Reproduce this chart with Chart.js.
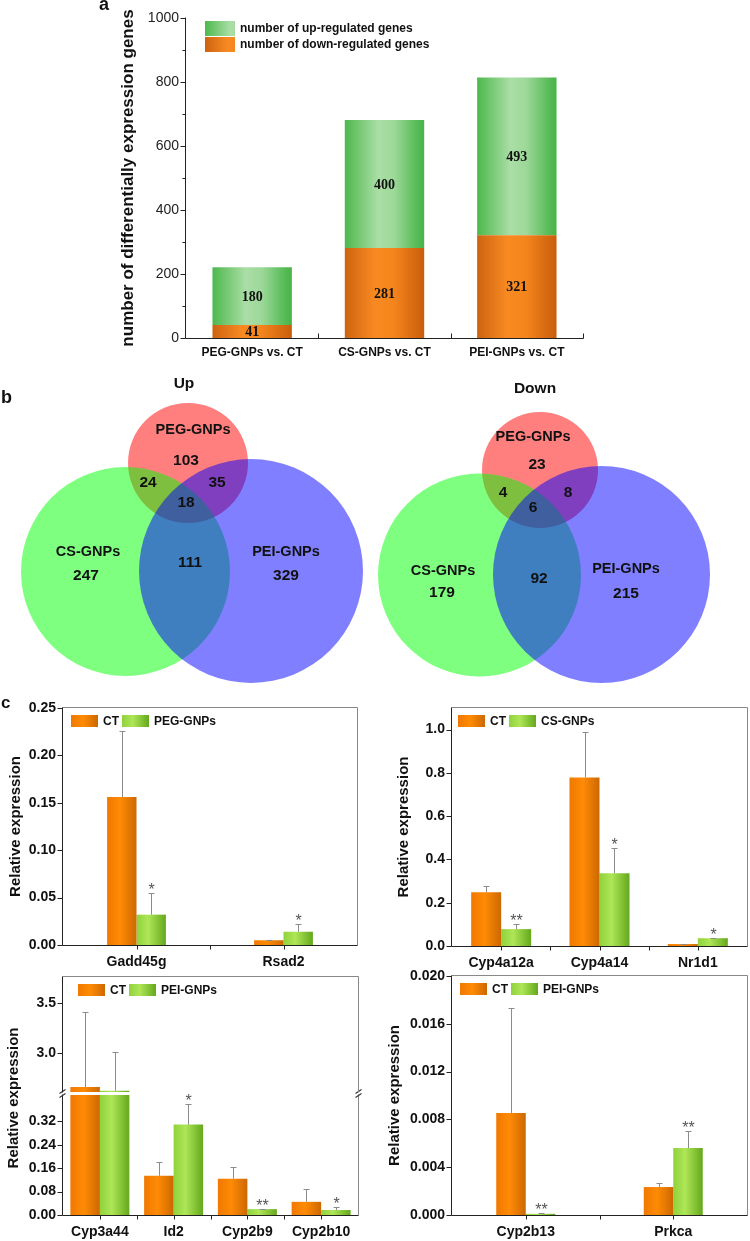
<!DOCTYPE html>
<html>
<head>
<meta charset="utf-8">
<title>Differentially expressed genes</title>
<script src="https://cdn.jsdelivr.net/npm/chart.js@4.4.1/dist/chart.umd.min.js"></script>
<style>
  body { margin: 0; background: #fff; }
  #page { position: relative; width: 750px; height: 1241px; overflow: hidden; font-family: 'Liberation Sans', Arial, sans-serif; }
  #page canvas { position: absolute; }
  .tag { position: absolute; font-weight: bold; color: #111; line-height: 18px; }
</style>
</head>
<body>
<div id="page">
  <canvas id="chartA" width="600" height="370" style="left:0;top:0"></canvas>
  <canvas id="vennUp" width="375" height="320" style="left:0;top:370px"></canvas>
  <canvas id="vennDown" width="375" height="320" style="left:375px;top:370px"></canvas>
  <canvas id="chartC1" width="375" height="285" style="left:0;top:690px"></canvas>
  <canvas id="chartC2" width="375" height="285" style="left:375px;top:690px"></canvas>
  <canvas id="chartC3" width="375" height="281" style="left:0;top:960px"></canvas>
  <canvas id="chartC3top" width="375" height="134" style="left:0;top:960px"></canvas>
  <canvas id="chartC4" width="375" height="281" style="left:375px;top:960px"></canvas>
  <div class="tag" style="left:99px;top:-5px;font-size:18px">a</div>
  <div class="tag" style="left:1px;top:388px;font-size:18px">b</div>
  <div class="tag" style="left:1px;top:694px;font-size:17px">c</div>
</div>
<script>
// panel a - number of differentially expressed genes
const groupsA = ['PEG-GNPs vs. CT', 'CS-GNPs vs. CT', 'PEI-GNPs vs. CT'];
const downA = [41, 281, 321];
const upA = [180, 400, 493];
const ticksA = [0, 200, 400, 600, 800, 1000];
const minorA = [100, 300, 500, 700, 900];

// panel b - venn region counts: PEG only, CS only, PEI only, PEG&CS, PEG&PEI, CS&PEI, all three
const vennSets = ['PEG-GNPs', 'CS-GNPs', 'PEI-GNPs'];
const vennUpCounts = [103, 247, 329, 24, 35, 111, 18];
const vennDownCounts = [23, 179, 215, 4, 8, 92, 6];

// panel c - relative expression (mean, sd, significance)
const genesC1 = ['Gadd45g', 'Rsad2'];
const ctC1 = [0.156, 0.005];
const ctC1Err = [0.070, 0.0006];
const pegC1 = [0.032, 0.014];
const pegC1Err = [0.023, 0.008];
const pegC1Sig = ['*', '*'];
const ticksC1 = [0, 0.05, 0.10, 0.15, 0.20, 0.25];

const genesC2 = ['Cyp4a12a', 'Cyp4a14', 'Nr1d1'];
const ctC2 = [0.249, 0.779, 0.009];
const ctC2Err = [0.027, 0.211, 0.002];
const csC2 = [0.078, 0.336, 0.036];
const csC2Err = [0.023, 0.116, 0.003];
const csC2Sig = ['**', '*', '*'];
const ticksC2 = [0, 0.2, 0.4, 0.6, 0.8, 1.0];

const genesC3 = ['Cyp3a44', 'Id2', 'Cyp2b9', 'Cyp2b10'];
const ctC3 = [2.66, 0.134, 0.124, 0.045];
const ctC3Err = [0.747, 0.048, 0.041, 0.044];
const peiC3 = [2.623, 0.309, 0.020, 0.017];
const peiC3Err = [0.384, 0.069, 0.002, 0.011];
const peiC3Sig = ['', '*', '**', '*'];
const ticksC3High = [3.0, 3.5];
const ticksC3Low = [0, 0.08, 0.16, 0.24, 0.32];

const genesC4 = ['Cyp2b13', 'Prkca'];
const ctC4 = [0.00854, 0.00234];
const ctC4Err = [0.0088, 0.00034];
const peiC4 = [0.0001, 0.0056];
const peiC4Err = [0.0001, 0.00143];
const peiC4Sig = ['**', '**'];
const ticksC4 = [0, 0.004, 0.008, 0.012, 0.016, 0.020];

// styles
const orangeA = [[0, '#cd6310'], [0.38, '#f98a22'], [0.62, '#f4841c'], [1, '#c85d0d']];
const greenA = [[0, '#4db84d'], [0.42, '#aadea6'], [0.62, '#9dd899'], [0.9, '#58bc58'], [1, '#49b349']];
const orangeC = [[0, '#f07800'], [0.45, '#ff8b05'], [1, '#cc6800']];
const greenC = [[0, '#8fd23c'], [0.4, '#aee657'], [1, '#64a81c']];
const vennColors = ['rgba(255,0,0,0.5)', 'rgba(0,255,0,0.5)', 'rgba(0,0,255,0.5)'];
const FONT = '"Liberation Sans", Arial, sans-serif';

// venn layout in canvas units: circles [cx, cy, r], text anchors
const vennUpLayout = {
  circles: [[188, 93, 60], [125.5, 201.5, 104.5], [251, 201, 112]],
  title: [184, 14],
  names: [[193, 60], [88, 182], [286, 182]],
  counts: [[186, 91], [86, 206], [286, 206], [148, 113], [217, 113], [190, 193], [186, 133]]
};
const vennDownLayout = {
  circles: [[165, 100, 58], [104.5, 205, 101.5], [226.5, 204.5, 108.5]],
  title: [160, 19],
  names: [[158, 67], [68, 201], [251, 199]],
  counts: [[162, 95], [67, 223], [251, 224], [128, 123], [193, 123], [164, 209], [158, 138]]
};

Chart.defaults.font.family = FONT;
Chart.defaults.color = '#111';

function makeGrad(ctx, x0, x1, stops) {
  const g = ctx.createLinearGradient(x0, 0, x1, 0);
  stops.forEach(s => g.addColorStop(s[0], s[1]));
  return g;
}

const gradPlugin = {
  id: 'gradfill',
  beforeDatasetsDraw(chart) {
    chart.data.datasets.forEach((ds, di) => {
      if (!ds.grad) return;
      chart.getDatasetMeta(di).data.forEach(bar => {
        bar.options.backgroundColor = makeGrad(chart.ctx, bar.x - bar.width / 2, bar.x + bar.width / 2, ds.grad);
      });
    });
  }
};

const valuePlugin = {
  id: 'vals',
  afterDatasetsDraw(chart) {
    const ctx = chart.ctx;
    ctx.save();
    ctx.font = 'bold 14px "Liberation Serif", "Times New Roman", serif';
    ctx.fillStyle = '#111';
    ctx.textAlign = 'center';
    ctx.textBaseline = 'middle';
    chart.data.datasets.forEach((ds, di) => {
      chart.getDatasetMeta(di).data.forEach((bar, i) => {
        ctx.fillText(ds.data[i], bar.x, (bar.y + bar.base) / 2 + 1);
      });
    });
    ctx.restore();
  }
};

const errPlugin = {
  id: 'errbars',
  afterDatasetsDraw(chart) {
    const {ctx, chartArea: a, scales: {y}} = chart;
    ctx.save();
    chart.data.datasets.forEach((ds, di) => {
      if (!ds.err) return;
      chart.getDatasetMeta(di).data.forEach((bar, i) => {
        const v = ds.data[i], top = v + ds.err[i];
        if (top > y.max || top < y.min) return;
        const yt = Math.round(y.getPixelForValue(top)) + 0.5;
        const yb = Math.min(Math.max(y.getPixelForValue(v), a.top), a.bottom);
        const xc = Math.round(bar.x) + 0.5;
        ctx.strokeStyle = '#8c8c8c';
        ctx.lineWidth = 1;
        ctx.beginPath();
        ctx.moveTo(xc, yb); ctx.lineTo(xc, yt);
        ctx.moveTo(xc - 3, yt); ctx.lineTo(xc + 3, yt);
        ctx.stroke();
        const s = ds.sig && ds.sig[i];
        if (s) {
          ctx.fillStyle = '#555';
          ctx.font = '16px ' + FONT;
          ctx.textAlign = 'center';
          ctx.textBaseline = 'alphabetic';
          ctx.fillText(s, xc, yt + 1);
        }
      });
    });
    ctx.restore();
  }
};

const framePlugin = {
  id: 'frame',
  afterDraw(chart, args, o) {
    const {ctx, chartArea: a, scales: {x, y}} = chart;
    const L = Math.round(a.left) - 0.5, R = Math.round(a.right) + 0.5;
    const T = Math.round(a.top) - 0.5, B = Math.round(a.bottom) + 0.5;
    const seg = (x1, y1, x2, y2, c) => { ctx.strokeStyle = c; ctx.beginPath(); ctx.moveTo(x1, y1); ctx.lineTo(x2, y2); ctx.stroke(); };
    const s = o.sides || {};
    const ink = s.left || '#222';
    ctx.save();
    ctx.lineWidth = 1;
    if (s.top) seg(L, T, R, T, s.top);
    if (s.right) seg(R, T, R, B, s.right);
    if (s.left) seg(L, T, L, B, s.left);
    if (s.bottom) seg(L, B, R, B, s.bottom);
    y.ticks.forEach(t => { const p = Math.round(y.getPixelForValue(t.value)) + 0.5; seg(L - 5, p, L, p, ink); });
    (o.minorY || []).forEach(v => { const p = Math.round(y.getPixelForValue(v)) + 0.5; seg(L - 3, p, L, p, ink); });
    if (o.xTicks) {
      const n = chart.data.labels.length;
      const centers = chart.data.labels.map((_, i) => x.getPixelForValue(i));
      const bounds = [];
      for (let i = 1; i < n; i++) bounds.push((centers[i - 1] + centers[i]) / 2);
      if (o.xTicks === 'in') {
        bounds.push(a.right);
        bounds.forEach(b => { const p = Math.round(b) + 0.5; seg(p, B, p, B - 5, ink); });
      } else {
        centers.concat(bounds).forEach(c => { const p = Math.round(c) + 0.5; seg(p, B, p, B + 4, ink); });
      }
    }
    if (o.breakTop) {
      ctx.lineWidth = 1.2;
      [L, R].forEach(bx => {
        const yc = a.top - 1.5;
        seg(bx - 3, yc, bx + 3, yc - 4, '#333');
        seg(bx - 3, yc + 4, bx + 3, yc, '#333');
      });
    }
    if (o.yTitle) {
      ctx.translate(o.yTitle.x, o.yTitle.y);
      ctx.rotate(-Math.PI / 2);
      ctx.fillStyle = '#111';
      ctx.font = 'bold 15px ' + FONT;
      ctx.textAlign = 'center';
      ctx.textBaseline = 'middle';
      ctx.fillText(o.yTitle.text, 0, 0);
    }
    ctx.restore();
  }
};

const keyPlugin = {
  id: 'key',
  afterDraw(chart, args, o) {
    const {ctx, chartArea: a} = chart;
    ctx.save();
    ctx.font = 'bold 12px ' + FONT;
    ctx.textBaseline = 'middle';
    ctx.textAlign = 'left';
    let px = a.left + o.dx, py = a.top + o.dy;
    o.order.forEach(di => {
      const ds = chart.data.datasets[di];
      ctx.fillStyle = makeGrad(ctx, px, px + (o.half ? o.w * 2 : o.w), ds.grad);
      ctx.fillRect(px, py, o.w, o.h);
      ctx.fillStyle = '#111';
      ctx.fillText(ds.label, px + o.w + o.gap, py + o.h / 2 + 0.5);
      if (o.stack) py += o.h + o.rowGap;
      else px += o.w + o.gap + ctx.measureText(ds.label).width + o.gap2;
    });
    ctx.restore();
  }
};

const vennTextPlugin = {
  id: 'vennText',
  afterDatasetsDraw(chart, args, o) {
    const {ctx, scales: {x, y}} = chart;
    ctx.save();
    ctx.fillStyle = '#111';
    ctx.textAlign = 'center';
    ctx.textBaseline = 'middle';
    o.items.forEach(t => {
      ctx.font = t[3] + ' ' + FONT;
      ctx.fillText(t[0], x.getPixelForValue(t[1]), y.getPixelForValue(t[2]));
    });
    ctx.restore();
  }
};

const noPad = s => { s.paddingLeft = s.paddingRight = s.paddingTop = s.paddingBottom = 0; };

// ---- panel a ----
new Chart(document.getElementById('chartA'), {
  type: 'bar',
  data: {
    labels: groupsA,
    datasets: [
      { label: 'number of down-regulated genes', data: downA, grad: orangeA, backgroundColor: () => '#f08020' },
      { label: 'number of up-regulated genes', data: upA, grad: greenA, backgroundColor: () => '#80cc80' }
    ]
  },
  options: {
    responsive: false, animation: false, events: [],
    layout: { padding: { left: 114, top: 18, right: 17, bottom: 0 } },
    datasets: { bar: { categoryPercentage: 1, barPercentage: 0.6, borderWidth: 0, clip: 0 } },
    scales: {
      x: {
        stacked: true,
        grid: { display: false, drawTicks: false }, border: { display: false },
        ticks: { padding: 7, font: { size: 12, weight: 'bold' }, color: '#111', maxRotation: 0, autoSkip: false },
        afterFit: s => { s.height = 32; s.paddingLeft = s.paddingRight = 0; }
      },
      y: {
        stacked: true, min: 0, max: 1000,
        grid: { display: false, drawTicks: false }, border: { display: false },
        ticks: { padding: 7, font: { size: 14 }, color: '#222', callback: v => String(v) },
        title: { display: true, text: 'number of differentially expression genes', font: { size: 17, weight: 'bold' }, color: '#111' },
        afterBuildTicks: s => { s.ticks = ticksA.map(v => ({ value: v })); },
        afterFit: s => { s.width = 72; s.paddingTop = s.paddingBottom = 0; }
      }
    },
    plugins: {
      legend: { display: false }, tooltip: { enabled: false },
      frame: { sides: { left: '#222', bottom: '#222' }, minorY: minorA, xTicks: 'in' },
      key: { order: [1, 0], dx: 19, dy: 3, w: 30, h: 15, gap: 5, stack: true, rowGap: 1, half: true }
    }
  },
  plugins: [gradPlugin, valuePlugin, framePlugin, keyPlugin]
});

// ---- panel b ----
function venn(id, title, counts, lay) {
  const items = [[title, lay.title[0], lay.title[1], 'bold 15.5px']];
  vennSets.forEach((n, i) => items.push([n, lay.names[i][0], lay.names[i][1], 'bold 14.5px']));
  counts.forEach((c, i) => items.push([String(c), lay.counts[i][0], lay.counts[i][1], 'bold 15.5px']));
  return new Chart(document.getElementById(id), {
    type: 'bubble',
    data: {
      datasets: [{
        data: lay.circles.map(c => ({ x: c[0], y: c[1] })),
        backgroundColor: vennColors,
        hoverBackgroundColor: vennColors,
        borderWidth: 0,
        hoverBorderWidth: 0,
        clip: false,
        radius: c => {
          const k = lay.circles[c.dataIndex];
          if (!k) return 0;
          const sx = c.chart.scales.x;
          const r = sx.getPixelForValue(k[2]) - sx.getPixelForValue(0);
          return isFinite(r) && r > 0 ? r : k[2];
        }
      }]
    },
    options: {
      responsive: false, animation: false, events: [],
      layout: { padding: 0, autoPadding: false },
      scales: {
        x: { type: 'linear', display: false, min: 0, max: 375, afterFit: noPad },
        y: { type: 'linear', display: false, min: 0, max: 320, reverse: true, afterFit: noPad }
      },
      plugins: { legend: { display: false }, tooltip: { enabled: false }, vennText: { items: items } }
    },
    plugins: [vennTextPlugin]
  });
}
venn('vennUp', 'Up', vennUpCounts, vennUpLayout);
venn('vennDown', 'Down', vennDownCounts, vennDownLayout);

// ---- panel c ----
const boxFrame = { sides: { left: '#222', bottom: '#222', top: '#888', right: '#888' }, xTicks: 'out' };

function qpcr(id, cfg) {
  return new Chart(document.getElementById(id), {
    type: 'bar',
    data: {
      labels: cfg.genes,
      datasets: [
        { label: 'CT', data: cfg.ct, err: cfg.ctErr, sig: [], grad: orangeC, backgroundColor: () => '#f58000' },
        { label: cfg.name, data: cfg.tr, err: cfg.trErr, sig: cfg.trSig, grad: greenC, backgroundColor: () => '#9ad646' }
      ]
    },
    options: {
      responsive: false, animation: false, events: [],
      layout: { padding: cfg.pad },
      datasets: { bar: { categoryPercentage: cfg.cat, barPercentage: 1, borderWidth: 0, clip: 0 } },
      scales: {
        x: {
          display: !cfg.hideX,
          grid: { display: false, drawTicks: false }, border: { display: false },
          ticks: { padding: 9, font: { size: 14, weight: 'bold' }, color: '#111', maxRotation: 0, autoSkip: false },
          afterFit: s => { s.height = cfg.xh || 0; s.paddingLeft = s.paddingRight = 0; }
        },
        y: {
          min: cfg.min, max: cfg.max,
          grid: { display: false, drawTicks: false }, border: { display: false },
          ticks: { padding: 7, font: { size: 14, weight: 'bold' }, color: '#111', callback: v => v.toFixed(cfg.dec) },
          title: { display: !!cfg.title, text: 'Relative expression', font: { size: 15, weight: 'bold' }, color: '#111' },
          afterBuildTicks: s => { s.ticks = cfg.ticks.map(v => ({ value: v })); },
          afterFit: s => { s.width = cfg.yw; s.paddingTop = s.paddingBottom = 0; }
        }
      },
      plugins: {
        legend: { display: false }, tooltip: { enabled: false },
        frame: cfg.frame,
        key: cfg.key || false
      }
    },
    plugins: [gradPlugin, errPlugin, framePlugin, keyPlugin]
  });
}

const cKey = dx => ({ order: [0, 1], dx: dx, dy: 7, w: 27, h: 12, gap: 5, gap2: 3 });

qpcr('chartC1', {
  genes: genesC1, ct: ctC1, ctErr: ctC1Err, tr: pegC1, trErr: pegC1Err, trSig: pegC1Sig, name: 'PEG-GNPs',
  min: 0, max: 0.25, ticks: ticksC1, dec: 2, cat: 0.4,
  pad: { left: 3, top: 18, right: 18, bottom: 0 }, yw: 60, xh: 30, title: true,
  frame: boxFrame, key: cKey(8)
});

qpcr('chartC2', {
  genes: genesC2, ct: ctC2, ctErr: ctC2Err, tr: csC2, trErr: csC2Err, trSig: csC2Sig, name: 'CS-GNPs',
  min: 0, max: 1.1, ticks: ticksC2, dec: 1, cat: 0.61,
  pad: { left: 16, top: 18, right: 3, bottom: 0 }, yw: 61, xh: 29, title: true,
  frame: boxFrame, key: cKey(6)
});

// broken axis: upper and lower segments share the same data
qpcr('chartC3top', {
  genes: genesC3, ct: ctC3, ctErr: ctC3Err, tr: peiC3, trErr: peiC3Err, trSig: peiC3Sig, name: 'PEI-GNPs',
  min: 2.61, max: 3.76, ticks: ticksC3High, dec: 1, cat: 0.8,
  pad: { left: 0, top: 17, right: 17, bottom: 2 }, yw: 63, hideX: true,
  frame: { sides: { left: '#222', top: '#888', right: '#888' } }, key: cKey(15)
});

qpcr('chartC3', {
  genes: genesC3, ct: ctC3, ctErr: ctC3Err, tr: peiC3, trErr: peiC3Err, trSig: peiC3Sig, name: 'PEI-GNPs',
  min: 0, max: 0.41, ticks: ticksC3Low, dec: 2, cat: 0.8,
  pad: { left: 0, top: 135, right: 17, bottom: 0 }, yw: 63, xh: 26,
  frame: { sides: { left: '#222', bottom: '#222', right: '#888' }, xTicks: 'out', breakTop: true,
           yTitle: { text: 'Relative expression', x: 14, y: 138 } }
});

qpcr('chartC4', {
  genes: genesC4, ct: ctC4, ctErr: ctC4Err, tr: peiC4, trErr: peiC4Err, trSig: peiC4Sig, name: 'PEI-GNPs',
  min: 0, max: 0.02, ticks: ticksC4, dec: 3, cat: 0.4,
  pad: { left: 7, top: 16, right: 3, bottom: 0 }, yw: 70, xh: 26, title: true,
  frame: boxFrame, key: cKey(8)
});
</script>
</body>
</html>
